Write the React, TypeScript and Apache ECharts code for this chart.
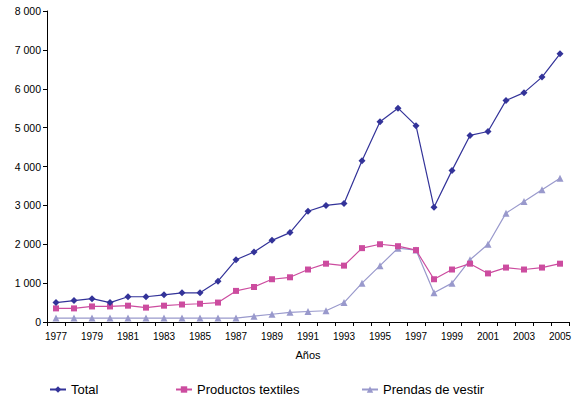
import React, { useEffect, useRef } from "react";
import * as echarts from "echarts";

const years = [
  "1977","1978","1979","1980","1981","1982","1983","1984","1985","1986",
  "1987","1988","1989","1990","1991","1992","1993","1994","1995","1996",
  "1997","1998","1999","2000","2001","2002","2003","2004","2005",
];
const total = [
  500, 550, 600, 500, 650, 650, 700, 750, 750, 1050,
  1600, 1800, 2100, 2300, 2850, 3000, 3050, 4150, 5150, 5500,
  5050, 2950, 3900, 4800, 4900, 5700, 5900, 6300, 6900,
];
const textiles = [
  350, 350, 400, 400, 420, 370, 420, 450, 470, 500,
  800, 900, 1100, 1150, 1350, 1500, 1450, 1900, 2000, 1950,
  1850, 1100, 1350, 1500, 1250, 1400, 1350, 1400, 1500,
];
const prendas = [
  100, 100, 100, 100, 100, 100, 100, 100, 100, 100,
  100, 150, 200, 250, 270, 290, 500, 1000, 1450, 1900,
  1850, 750, 1000, 1600, 2000, 2800, 3100, 3400, 3700,
];
const seriesNames = ["Total", "Productos textiles", "Prendas de vestir"];

const FONT = "'Liberation Sans', Arial, sans-serif";

export default function App() {
  const ref = useRef<HTMLDivElement>(null);
  useEffect(() => {
    if (!ref.current) return;
    const chart = echarts.init(ref.current, null, { renderer: "svg" });
    const legendCommon = {
      top: 378,
      itemWidth: 16,
      itemHeight: 8,
      itemGap: 4,
      textStyle: { fontFamily: FONT, fontSize: 13, color: "#000" },
    };
    chart.setOption({
      animation: false,
      backgroundColor: "#fff",
      textStyle: { fontFamily: FONT },
      grid: { left: 47, right: 8, top: 11, bottom: 75 },
      legend: [
        { ...legendCommon, left: 44, data: [seriesNames[0]] },
        { ...legendCommon, left: 170, data: [seriesNames[1]] },
        { ...legendCommon, left: 356, data: [seriesNames[2]] },
      ],
      xAxis: {
        type: "category",
        data: years,
        boundaryGap: true,
        name: "Años",
        nameLocation: "middle",
        nameGap: 27,
        nameTextStyle: { fontFamily: FONT, fontSize: 11, color: "#000" },
        axisLine: { lineStyle: { color: "#000", width: 1 } },
        axisTick: { show: true, interval: 0, length: 4, lineStyle: { color: "#000" } },
        axisLabel: { interval: 1, fontFamily: FONT, fontSize: 10, color: "#000", margin: 9 },
        splitLine: { show: false },
      },
      yAxis: {
        type: "value",
        min: 0,
        max: 8000,
        interval: 1000,
        axisLine: { show: true, lineStyle: { color: "#000", width: 1 } },
        axisTick: { show: true, length: 4, lineStyle: { color: "#000" } },
        axisLabel: {
          fontFamily: FONT,
          fontSize: 10.5,
          color: "#000",
          margin: 6,
          formatter: (v: number) =>
            v >= 1000 ? `${Math.floor(v / 1000)} ${String(v % 1000).padStart(3, "0")}` : String(v),
        },
        splitLine: { show: false },
      },
      series: [
        {
          name: seriesNames[0],
          type: "line",
          data: total,
          symbol: "diamond",
          symbolSize: 7,
          color: "#333399",
          lineStyle: { width: 1.2, color: "#333399" },
          itemStyle: { color: "#333399" },
          z: 3,
        },
        {
          name: seriesNames[1],
          type: "line",
          data: textiles,
          symbol: "rect",
          symbolSize: 6,
          color: "#CC4C9F",
          lineStyle: { width: 1.2, color: "#CC4C9F" },
          itemStyle: { color: "#CC4C9F" },
          z: 2,
        },
        {
          name: seriesNames[2],
          type: "line",
          data: prendas,
          symbol: "triangle",
          symbolSize: 7,
          color: "#9999CC",
          lineStyle: { width: 1.2, color: "#9999CC" },
          itemStyle: { color: "#9999CC" },
          z: 1,
        },
      ],
    });
    return () => chart.dispose();
  }, []);
  return <div ref={ref} style={{ width: 577, height: 397, position: "absolute", left: 0, top: 0 }} />;
}
